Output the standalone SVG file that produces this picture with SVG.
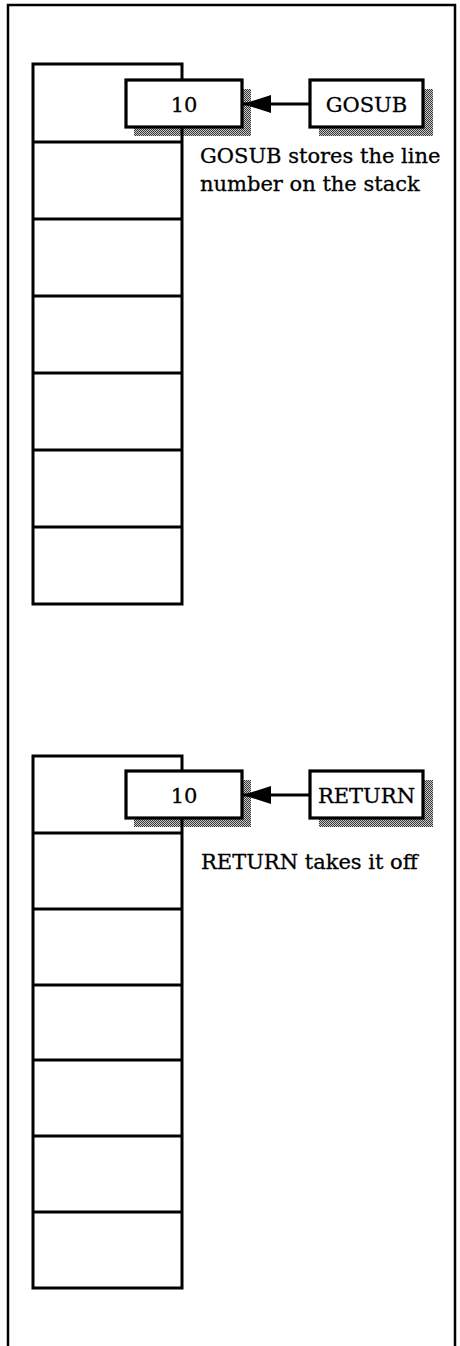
<svg xmlns="http://www.w3.org/2000/svg" width="460" height="1346" viewBox="0 0 460 1346">
  <style>
    .frame { fill: none; stroke: #000; stroke-width: 2.5; }
    .stack { fill: none; stroke: #000; stroke-width: 3; }
    .box { fill: #fff; stroke: #000; stroke-width: 3.2; }
    .shadow { fill: url(#dither); }
    .label { font-family: "DejaVu Serif", "Liberation Serif", serif; font-size: 21px; fill: #000; stroke: #000; stroke-width: 0.3; }
    .mid { text-anchor: middle; }
    .conn { stroke: #000; stroke-width: 3; fill: none; }
  </style>
  <defs>
    <!-- grey halftone used for drop shadows -->
    <pattern id="dither" width="2" height="2" patternUnits="userSpaceOnUse">
      <rect width="2" height="2" fill="#c8c8c8"/>
      <rect width="1" height="1" fill="#383838"/>
      <rect x="1" y="1" width="1" height="1" fill="#383838"/>
    </pattern>
    <marker id="head" markerWidth="28" markerHeight="18" refX="28" refY="9" orient="auto" markerUnits="userSpaceOnUse">
      <path d="M0,0 L28,9 L0,18 Z" fill="#000"/>
    </marker>
  </defs>

  <rect width="460" height="1346" fill="#fff"/>

  <!-- outer frame, open at the bottom -->
  <path class="frame" d="M8,1346 V5 H455 V1346"/>

  <!-- upper panel: GOSUB -->
  <g id="shadow-gosub-10">
    <rect class="shadow" x="134" y="89" width="117" height="47"/>
  </g>
  <g id="shadow-gosub">
    <rect class="shadow" x="319" y="89" width="114" height="47"/>
  </g>
  <g id="stack-upper">
    <rect class="stack" x="33" y="64" width="149" height="540"/>
    <path class="stack" d="M33,142 H182 M33,219 H182 M33,296 H182 M33,373 H182 M33,450 H182 M33,527 H182"/>
  </g>
  <g id="value-upper">
    <rect class="box" x="126" y="80" width="116" height="47"/>
    <text class="label mid" x="184" y="112">10</text>
  </g>
  <g id="gosub">
    <rect class="box" x="310" y="80" width="113" height="47"/>
    <text class="label mid" x="366.5" y="112">GOSUB</text>
  </g>
  <g id="note-gosub">
    <text class="label" x="200" y="163">GOSUB stores the line</text>
    <text class="label" x="200" y="191">number on the stack</text>
  </g>

  <!-- lower panel: RETURN -->
  <g id="shadow-return-10">
    <rect class="shadow" x="134" y="780" width="117" height="47"/>
  </g>
  <g id="shadow-return">
    <rect class="shadow" x="319" y="780" width="114" height="47"/>
  </g>
  <g id="stack-lower">
    <rect class="stack" x="33" y="756" width="149" height="532"/>
    <path class="stack" d="M33,833 H182 M33,909 H182 M33,985 H182 M33,1060 H182 M33,1136 H182 M33,1212 H182"/>
  </g>
  <g id="value-lower">
    <rect class="box" x="126" y="771" width="116" height="47"/>
    <text class="label mid" x="184" y="803">10</text>
  </g>
  <g id="return">
    <rect class="box" x="310" y="771" width="113" height="47"/>
    <text class="label mid" x="366.5" y="803">RETURN</text>
  </g>
  <g id="note-return">
    <text class="label" x="201" y="869">RETURN takes it off</text>
  </g>

  <g id="connectors">
    <line class="conn" x1="310" y1="104" x2="243" y2="104" marker-end="url(#head)"/>
    <line class="conn" x1="310" y1="795" x2="243" y2="795" marker-end="url(#head)"/>
  </g>
</svg>
